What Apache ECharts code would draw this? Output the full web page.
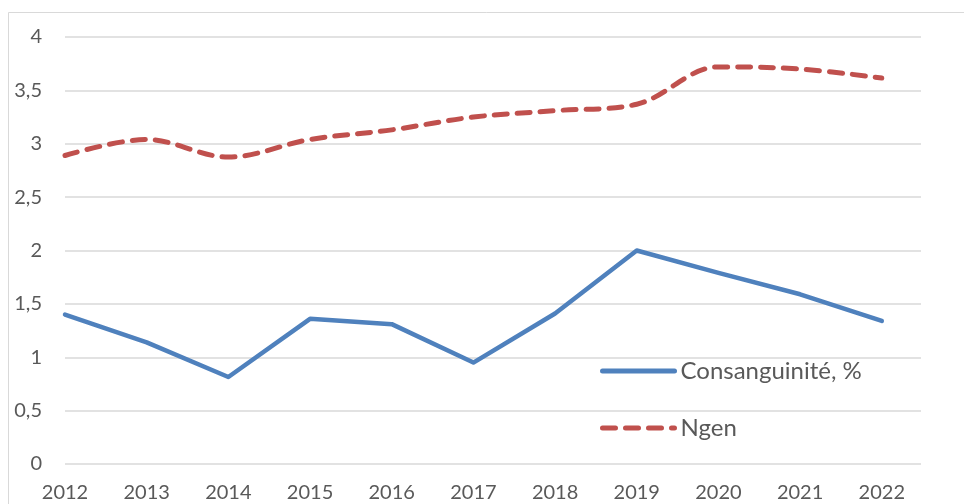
<!DOCTYPE html>
<html>
<head>
<meta charset="utf-8">
<script src="https://cdn.jsdelivr.net/npm/echarts@6/dist/echarts.min.js"></script>
<style>
  html, body { margin: 0; padding: 0; background: #fff; }
  #chart { width: 964px; height: 504px; }
</style>
</head>
<body>
<div id="chart"></div>
<script>
// Years on the horizontal axis
const years = [2012, 2013, 2014, 2015, 2016, 2017, 2018, 2019, 2020, 2021, 2022];
// Consanguinity rate, %
const consanguinite = [1.40, 1.14, 0.815, 1.36, 1.31, 0.95, 1.41, 2.00, 1.79, 1.59, 1.34];
// Number of known generations
const ngen = [2.89, 3.04, 2.875, 3.04, 3.13, 3.25, 3.31, 3.37, 3.72, 3.70, 3.615];
// Series names shown in the legend
const seriesNames = ['Consanguinité, %', 'Ngen'];

const FONT = 'Lato';
const TEXT = '#595959';

const chart = echarts.init(document.getElementById('chart'), null, { renderer: 'canvas' });

chart.setOption({
  animation: false,
  backgroundColor: '#ffffff',
  textStyle: { fontFamily: FONT },
  graphic: [{
    type: 'rect',
    silent: true,
    shape: { x: 8.5, y: 12.5, width: 980, height: 520 },
    style: { fill: 'none', stroke: '#D9D9D9', lineWidth: 1 }
  }],
  grid: { left: 65, right: 43, top: 37, bottom: 40, containLabel: false },
  legend: {
    orient: 'vertical',
    left: 600,
    top: 359,
    padding: 0,
    itemWidth: 72,
    itemHeight: 20,
    itemGap: 33,
    itemStyle: { opacity: 0 },
    lineStyle: { width: 5, cap: 'round' },
    textStyle: { color: TEXT, fontSize: 24, fontFamily: FONT, lineHeight: 20, padding: [0, 0, 0, 1] },
    data: seriesNames
  },
  xAxis: {
    type: 'value',
    min: years[0],
    max: years[years.length - 1] + 0.48,
    interval: 1,
    axisLine: { show: false },
    axisTick: { show: false },
    splitLine: { show: false },
    axisLabel: {
      margin: 19,
      color: TEXT,
      fontSize: 20,
      fontFamily: FONT,
      showMaxLabel: false,
      formatter: v => (Number.isInteger(v) ? String(v) : '')
    }
  },
  yAxis: {
    type: 'value',
    min: 0,
    max: 4,
    interval: 0.5,
    axisLine: { show: false },
    axisTick: { show: false },
    splitLine: { lineStyle: { color: '#D9D9D9', width: 1.5 } },
    axisLabel: {
      margin: 23,
      color: TEXT,
      fontSize: 20,
      fontFamily: FONT,
      formatter: v => String(v).replace('.', ',')
    }
  },
  series: [
    {
      name: seriesNames[0],
      type: 'line',
      symbol: 'none',
      data: years.map((y, i) => [y, consanguinite[i]]),
      itemStyle: { color: '#4F81BD' },
      lineStyle: { color: '#4F81BD', width: 4.5, cap: 'round', join: 'round' }
    },
    {
      name: seriesNames[1],
      type: 'line',
      symbol: 'none',
      smooth: 0.35,
      data: years.map((y, i) => [y, ngen[i]]),
      itemStyle: { color: '#C0504D' },
      lineStyle: { color: '#C0504D', width: 5, type: [13, 10], cap: 'round', join: 'round' }
    }
  ]
});
</script>
</body>
</html>
